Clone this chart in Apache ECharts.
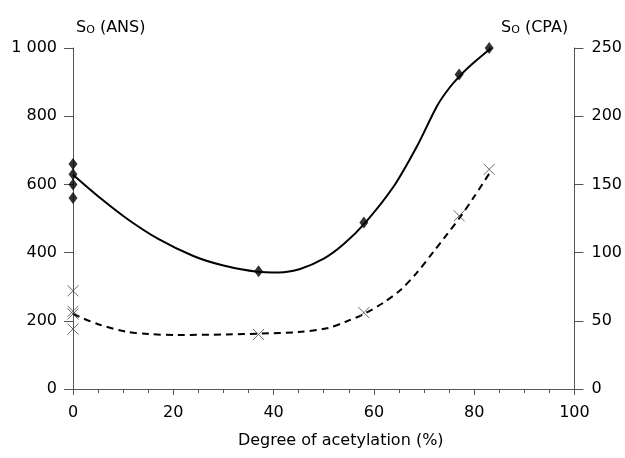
<!DOCTYPE html>
<html><head><meta charset="utf-8">
<script src="https://cdn.jsdelivr.net/npm/echarts@6/dist/echarts.min.js"></script>
<style>html,body{margin:0;padding:0;background:#fff}#c{width:625px;height:458px}</style>
</head><body><div id="c"></div>
<script>
// Measured points: S_O (ANS), left axis
var ansX = [0, 0, 0, 0, 37, 58, 77, 83];
var ansY = [660, 630, 600, 560, 345, 488, 922, 1000];
// Measured points: S_O (CPA), right axis
var cpaX = [0, 0, 0, 0, 37, 58, 77, 83];
var cpaY = [72, 57, 55, 44, 40, 56, 127, 161];
// Fitted curve through ANS (solid)
var ansCurveX = [0, 5, 10.7, 17, 24, 30, 36.7, 41, 45.3, 50, 54, 58.3, 63.9, 68.6, 72.6, 75, 77.4, 80, 83.4];
var ansCurveY = [628, 565, 500, 440, 390, 362, 344, 342, 352, 382, 425, 488, 593, 712, 830, 882, 922, 958, 1000];
// Fitted curve through CPA (dashed)
var cpaCurveX = [0, 5, 10.7, 15, 20.7, 30.7, 37.3, 45, 50.6, 54.5, 58.3, 62, 65.3, 68.5, 71.9, 74.5, 77.2, 80, 83.2];
var cpaCurveY = [55, 47.5, 42, 40.3, 39.6, 40, 40.6, 41.8, 44.5, 49.5, 55.5, 63.5, 72.6, 85, 100.7, 113, 126, 141, 159];
// Tick labels
var xTickLabels = ['0', '20', '40', '60', '80', '100'];
var leftTickLabels = ['0', '200', '400', '600', '800', '1 000'];
var rightTickLabels = ['0', '50', '100', '150', '200', '250'];
var xTitle = 'Degree of acetylation (%)';

function zip(a, b) { return a.map(function (v, i) { return [v, b[i]]; }); }
var FONT = 'DejaVu Sans';
var axisCol = '#555';
var chart = echarts.init(document.getElementById('c'));
var subRich = {
  n: { fontFamily: FONT, fontSize: 16, fontWeight: 'normal', color: '#000' },
  sub: { fontFamily: FONT, fontSize: 11, fontWeight: 'normal', color: '#000', verticalAlign: 'bottom', padding: [6, 0, 0, 0] }
};
chart.setOption({
  animation: false,
  backgroundColor: '#fff',
  title: [
    { text: '{n|S}{sub|O}{n| (ANS)}', left: 71, top: 14, textStyle: { fontWeight: 'normal', rich: subRich } },
    { text: '{n|S}{sub|O}{n| (CPA)}', left: 496, top: 14, textStyle: { fontWeight: 'normal', rich: subRich } }
  ],
  grid: { left: 73, right: 50, top: 48, bottom: 69, containLabel: false },
  xAxis: {
    type: 'value', min: 0, max: 100, interval: 20,
    name: xTitle, nameLocation: 'middle', nameGap: 44,
    nameTextStyle: { fontFamily: FONT, fontSize: 16, color: '#000', padding: [0, 0, 0, 34] },
    axisLine: { show: true, lineStyle: { color: axisCol, width: 1 } },
    axisTick: { show: true, length: 6, lineStyle: { color: axisCol } },
    minorTick: { show: true, splitNumber: 4, length: 4, lineStyle: { color: axisCol } },
    splitLine: { show: false },
    axisLabel: { fontFamily: FONT, fontSize: 16, color: '#000', margin: 16,
      formatter: function (v) { return xTickLabels[Math.round(v / 20)]; } }
  },
  yAxis: [
    {
      type: 'value', min: 0, max: 1000, interval: 200, position: 'left',
      axisLine: { show: true, onZero: false, lineStyle: { color: axisCol, width: 1 } },
      axisTick: { show: true, length: 9, lineStyle: { color: axisCol } },
      splitLine: { show: false },
      axisLabel: { fontFamily: FONT, fontSize: 16, color: '#000', margin: 16,
        formatter: function (v) { return leftTickLabels[Math.round(v / 200)]; } }
    },
    {
      type: 'value', min: 0, max: 250, interval: 50, position: 'right',
      axisLine: { show: true, onZero: false, lineStyle: { color: axisCol, width: 1 } },
      axisTick: { show: true, length: 9, lineStyle: { color: axisCol } },
      splitLine: { show: false },
      axisLabel: { fontFamily: FONT, fontSize: 16, color: '#000', margin: 17,
        formatter: function (v) { return rightTickLabels[Math.round(v / 50)]; } }
    }
  ],
  series: [
    { type: 'line', yAxisIndex: 0, data: zip(ansCurveX, ansCurveY), smooth: 0.3,
      showSymbol: false, symbol: 'none', lineStyle: { color: '#000', width: 2 }, z: 2 },
    { type: 'line', yAxisIndex: 1, data: zip(cpaCurveX, cpaCurveY), smooth: 0.3,
      showSymbol: false, symbol: 'none', lineStyle: { color: '#000', width: 2, type: [7, 5] }, z: 2 },
    { type: 'scatter', yAxisIndex: 0, data: zip(ansX, ansY), symbol: 'diamond', symbolSize: [9, 12],
      clip: false, itemStyle: { color: '#000' }, z: 3 },
    { type: 'scatter', yAxisIndex: 1, data: zip(cpaX, cpaY), symbol: 'path://M0,0L10,10M10,0L0,10',
      symbolSize: 11, clip: false, itemStyle: { color: 'none', borderColor: '#444', borderWidth: 1 }, z: 3 }
  ]
});
</script></body></html>
